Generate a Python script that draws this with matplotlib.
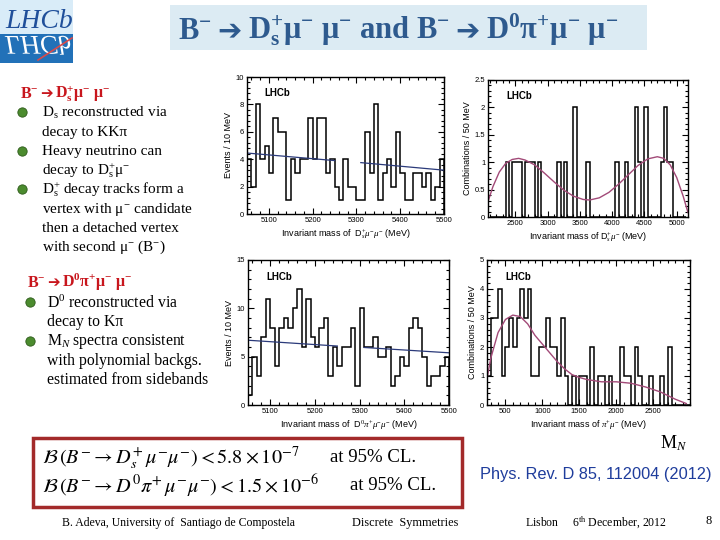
import numpy as np
import matplotlib
matplotlib.use("Agg")
import matplotlib.pyplot as plt
from matplotlib.patches import Rectangle, PathPatch
from matplotlib.textpath import TextPath
from matplotlib.font_manager import FontProperties
from matplotlib.transforms import Affine2D
from matplotlib.ticker import AutoMinorLocator

plt.rcParams["mathtext.fontset"] = "custom"
plt.rcParams["mathtext.rm"] = "Liberation Serif"
plt.rcParams["mathtext.it"] = "Liberation Serif:italic"
plt.rcParams["mathtext.bf"] = "Liberation Serif:bold"
SERIF = ["Liberation Serif", "DejaVu Sans"]
SANS = ["Liberation Sans", "DejaVu Sans"]

# B- -> Ds+ mu- mu-, 10 MeV bins from 5050 to 5500
ds_edges = np.arange(5050, 5501, 10)
ds_counts = [4, 2, 8, 4, 5, 3, 7, 6, 6, 1, 4, 3, 4, 4, 7, 4, 7, 7, 3, 4, 2, 1, 4,
             2, 2, 1, 1, 6, 3, 8, 1, 3, 4, 2, 6, 3, 1, 1, 3, 3, 2, 3, 1, 2, 4]
ds_fit_x = [[5050, 5250], [5310, 5500]]
ds_fit_y = [[4.45, 3.9], [3.75, 3.2]]

# Ds+ mu- mass, 50 MeV bins
dsmu_edges = np.arange(2100, 5151, 50)
dsmu_counts = [0, 0, 0, 0, 0, 1, 0, 1, 1, 1, 0, 1, 1, 1, 0, 1, 0, 0, 0, 0, 0,
               1, 0, 1, 0, 0, 2, 0, 0, 0, 1, 0, 0, 0, 0, 0, 0, 0, 0, 1, 0, 0,
               1, 0, 0, 2, 1, 0, 2, 0, 0, 0, 0, 1, 2, 1, 1, 0, 0, 0, 0]
dsmu_curve_x = [2075, 2150, 2250, 2350, 2450, 2550, 2650, 2800, 2950, 3100, 3250,
                3400, 3550, 3650, 3800, 3950, 4100, 4250, 4400, 4550, 4700, 4800,
                4900, 5000, 5100, 5175]
dsmu_curve_y = [0.28, 0.55, 0.82, 0.98, 1.05, 1.07, 1.04, 0.95, 0.8, 0.64, 0.49,
                0.38, 0.32, 0.31, 0.35, 0.45, 0.6, 0.77, 0.94, 1.06, 1.1, 1.07,
                0.95, 0.72, 0.38, 0.08]

# B- -> D0 pi+ mu- mu-, 10 MeV bins
d0_edges = np.arange(5050, 5501, 10)
d0_counts = [1, 5, 3, 7, 11, 8, 4, 8, 9, 8, 10, 12, 6, 11, 7, 6, 8, 9, 3, 6, 4, 6, 6,
             8, 2, 10, 6, 6, 7, 5, 5, 6, 2, 3, 5, 4, 8, 9, 8, 5, 2, 3, 3, 4, 5]
d0_fit_x = [[5050, 5250], [5310, 5500]]
d0_fit_y = [[6.7, 6.1], [5.95, 5.4]]

# pi+ mu- mass, 50 MeV bins
pimu_edges = np.arange(250, 3001, 50)
pimu_counts = [1, 3, 3, 4, 1, 2, 3, 2, 3, 4, 3, 4, 1, 1, 2, 2, 3, 2, 2, 1, 3, 1, 0,
               1, 0, 1, 1, 0, 2, 0, 1, 1, 0, 1, 0, 0, 2, 1, 1, 0, 2, 1, 0, 0, 1, 0,
               0, 1, 0, 2, 0, 0, 0, 0, 0]
pimu_curve_x = [250, 300, 400, 500, 600, 700, 800, 900, 1000, 1100, 1200, 1300,
                1400, 1500, 1600, 1800, 2000, 2200, 2400, 2600, 2800, 2950]
pimu_curve_y = [0.9, 1.6, 2.5, 2.95, 3.1, 3.05, 2.8, 2.4, 2.1, 1.8, 1.5, 1.25,
                1.05, 0.95, 0.88, 0.8, 0.8, 0.75, 0.62, 0.45, 0.2, 0.05]

fig = plt.figure(figsize=(7.2, 5.4), dpi=100)
bg = fig.add_axes([0, 0, 1, 1])
bg.set_xlim(0, 720)
bg.set_ylim(540, 0)
bg.axis("off")
rend = fig.canvas.get_renderer()


def T(x, y, s, **kw):
    kw.setdefault("family", SERIF)
    kw.setdefault("va", "center")
    return bg.text(x, y, s, **kw)


def chain(x, y, pieces, gap, **kw):
    # pieces laid out left to right on one baseline; the arrow is a DejaVu glyph
    for s in pieces:
        if s == "➔":
            t = bg.text(x, y, s, va="baseline", family="DejaVu Sans",
                        fontsize=kw["fontsize"] * 0.95, color=kw["color"])
        else:
            t = bg.text(x, y, s, va="baseline", family=SERIF, weight="bold", **kw)
        x += t.get_window_extent(rend).width + gap


# logo
bg.add_patch(Rectangle((0, 0), 73, 34, color="#d9ecf8", lw=0))
bg.add_patch(Rectangle((0, 34), 73, 29, color="#2271b8", lw=0))
T(5, 22, "LHCb", fontsize=20, style="italic", color="#1f4f9a")
tp = TextPath((0, 0), "LHCb", size=27, prop=FontProperties(family="Liberation Serif", style="italic"))
bg.add_patch(PathPatch(tp.transformed(Affine2D().translate(5, 36)), color="white", lw=0))
bg.plot([38, 72], [60, 38], color="#d84a4a", lw=1.2)

# title
bg.add_patch(Rectangle((170, 5), 477, 45, color="#dcebf3", lw=0))
chain(178, 39, [r"B$^{\mathbf{-}}$", "➔",
                r"D$_{\mathbf{s}}^{\mathbf{+}}$μ$^{\mathbf{-}}$ μ$^{\mathbf{-}}$ and B$^{\mathbf{-}}$", "➔",
                r"D$^{\mathbf{0}}$π$^{\mathbf{+}}$μ$^{\mathbf{-}}$ μ$^{\mathbf{-}}$"],
      gap=6, fontsize=22, color="#2e5a8e")

# left text blocks
red = "#c8161d"
chain(20, 98, [r"B$^{\mathbf{-}}$", "➔", r"D$_{\mathbf{s}}^{\mathbf{+}}$μ$^{\mathbf{-}}$ μ$^{\mathbf{-}}$"],
      gap=2, fontsize=11.5, color=red)
lines1 = [r"D$_\mathrm{s}$ reconstructed via", "decay to KKπ", "Heavy neutrino can",
          r"decay to D$_\mathrm{s}^{+}$μ$^{-}$", r"D$_\mathrm{s}^{+}$ decay tracks form a",
          r"vertex with μ$^{-}$ candidate", "then a detached vertex",
          r"with second μ$^{-}$ (B$^{-}$)"]
for i, s in enumerate(lines1):
    T(42, 113 + 19.2 * i, s, fontsize=11)
bg.scatter([22, 22, 22], [112, 151, 189], s=45, color="#4b8b2e", edgecolor="#2d5a1a", lw=0.6, zorder=3)

chain(27, 287, [r"B$^{\mathbf{-}}$", "➔", r"D$^{\mathbf{0}}$π$^{\mathbf{+}}$μ$^{\mathbf{-}}$ μ$^{\mathbf{-}}$"],
      gap=2, fontsize=11.5, color=red)
lines2 = [r"D$^{0}$ reconstructed via", "decay to Kπ", r"M$_{N}$ spectra consistent",
          "with polynomial backgs.", "estimated from sidebands"]
for i, s in enumerate(lines2):
    T(47, 303 + 19.3 * i, s, fontsize=11.3)
bg.scatter([30, 30], [302, 341], s=45, color="#4b8b2e", edgecolor="#2d5a1a", lw=0.6, zorder=3)

# limits box
bg.add_patch(Rectangle((33, 438), 429, 69, fill=False, ec="#a32a2a", lw=2.5))
bg.text(42, 458, r"$\mathcal{B}\,(B^{-}\rightarrow D_s^{+}\,\mu^{-}\mu^{-}) < 5.8\times10^{-7}$",
        fontsize=14.6, va="center", math_fontfamily="stix")
bg.text(42, 486, r"$\mathcal{B}\,(B^{-}\rightarrow D^{0}\pi^{+}\,\mu^{-}\mu^{-}) < 1.5\times10^{-6}$",
        fontsize=14.6, va="center", math_fontfamily="stix")
T(330, 458, "at 95% CL.", fontsize=13.5)
T(350, 486, "at 95% CL.", fontsize=13.5)

T(660, 443, r"M$_{N}$", fontsize=13)
T(480, 475, "Phys. Rev. D 85, 112004 (2012)", fontsize=11.8, family=SANS, color="#1f3d9c")

# footer
T(62, 523, "B. Adeva, University of  Santiago de Compostela", fontsize=8.5)
T(352, 523, "Discrete  Symmetries", fontsize=8.8)
T(525, 523, r"Lisbon     6$^{\mathrm{th}}$ December, 2012", fontsize=8.5)
T(705, 521, "8", fontsize=9)


def hist_axes(x0, y0, x1, y1):
    ax = fig.add_axes([x0 / 720, 1 - y1 / 540, (x1 - x0) / 720, (y1 - y0) / 540])
    ax.tick_params(which="both", direction="in", top=True, right=True, labelsize=5.5, width=0.8, pad=2)
    ax.tick_params(which="major", length=4)
    ax.tick_params(which="minor", length=2)
    for sp in ax.spines.values():
        sp.set_linewidth(1.0)
    ax.text(0.09, 0.86, "LHCb", transform=ax.transAxes, fontsize=7, weight="bold", family=SANS)
    return ax


ax1 = hist_axes(247, 77, 444, 214)
ax1.stairs(ds_counts, ds_edges, color="black", lw=1.1)
for fx, fy in zip(ds_fit_x, ds_fit_y):
    ax1.plot(fx, fy, color="#2b3a7a", lw=0.9)
ax1.set_xlim(5050, 5500)
ax1.set_ylim(0, 10)
ax1.set_xticks([5100, 5200, 5300, 5400, 5500])
ax1.set_yticks([0, 2, 4, 6, 8, 10])
ax1.set_ylabel("Events / 10 MeV", fontsize=6.5, family=SANS, labelpad=2)
ax1.set_xlabel(r"Invariant mass of  D$_s^{+}\mu^{-}\mu^{-}$ (MeV)", fontsize=6.5, family=SANS, labelpad=2)

ax2 = hist_axes(488, 80, 688, 217)
ax2.stairs(dsmu_counts, dsmu_edges, color="black", lw=1.1)
ax2.plot(dsmu_curve_x, dsmu_curve_y, color="#a24a78", lw=1.0)
ax2.set_xlim(2075, 5175)
ax2.set_ylim(0, 2.5)
ax2.set_xticks([2500, 3000, 3500, 4000, 4500, 5000])
ax2.set_yticks([0, 0.5, 1, 1.5, 2, 2.5])
ax2.set_yticklabels(["0", "0.5", "1", "1.5", "2", "2.5"])
ax2.set_ylabel("Combinations / 50 MeV", fontsize=6.5, family=SANS, labelpad=2)
ax2.set_xlabel(r"Invariant mass of D$_s^{+}\mu^{-}$ (MeV)", fontsize=6.5, family=SANS, labelpad=2)

ax3 = hist_axes(248, 260, 449, 405)
ax3.stairs(d0_counts, d0_edges, color="black", lw=1.1)
for fx, fy in zip(d0_fit_x, d0_fit_y):
    ax3.plot(fx, fy, color="#2b3a7a", lw=0.9)
ax3.set_xlim(5050, 5500)
ax3.set_ylim(0, 15)
ax3.set_xticks([5100, 5200, 5300, 5400, 5500])
ax3.set_yticks([0, 5, 10, 15])
ax3.set_ylabel("Events / 10 MeV", fontsize=6.5, family=SANS, labelpad=2)
ax3.set_xlabel(r"Invariant mass of  D$^{0}\pi^{+}\mu^{-}\mu^{-}$ (MeV)", fontsize=6.5, family=SANS, labelpad=2)

ax4 = hist_axes(487, 260, 690, 405)
ax4.stairs(pimu_counts, pimu_edges, color="black", lw=1.1)
ax4.plot(pimu_curve_x, pimu_curve_y, color="#a24a78", lw=1.0)
ax4.set_xlim(250, 3000)
ax4.set_ylim(0, 5)
ax4.set_xticks([500, 1000, 1500, 2000, 2500])
ax4.set_yticks([0, 1, 2, 3, 4, 5])
ax4.set_ylabel("Combinations / 50 MeV", fontsize=6.5, family=SANS, labelpad=2)
ax4.set_xlabel(r"Invariant mass of $\pi^{+}\mu^{-}$ (MeV)", fontsize=6.5, family=SANS, labelpad=2)

for ax in (ax1, ax2, ax3, ax4):
    ax.xaxis.set_minor_locator(AutoMinorLocator(5))
    ax.yaxis.set_minor_locator(AutoMinorLocator(5))
    for lab in ax.get_xticklabels() + ax.get_yticklabels():
        lab.set_family(SANS)

fig.savefig("out.png", dpi=100)
